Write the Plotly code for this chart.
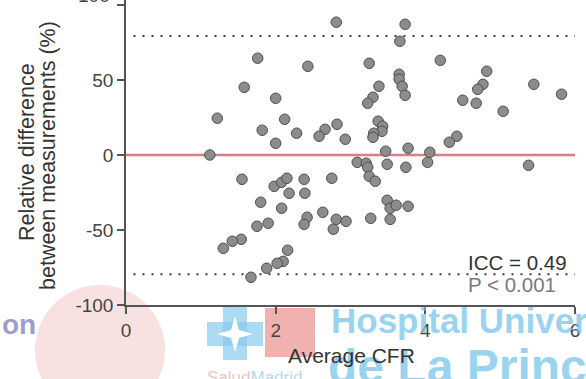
import plotly.graph_objects as go

# Bland-Altman style agreement plot for repeated CFR measurements
avg_cfr = [1.12, 1.22, 1.58, 1.76, 2.00, 1.82, 2.12, 2.28, 2.00, 2.43, 2.66, 2.58, 2.82, 2.93,
           2.81, 3.73, 3.66, 3.25, 4.20, 3.65, 3.65, 3.69, 3.73, 3.38, 3.30, 3.23, 3.37, 3.43,
           3.42, 3.31, 3.30, 4.42, 4.32, 3.47, 3.77, 4.06, 4.50, 4.68, 5.04, 4.82, 4.77, 4.70,
           5.45, 5.82, 5.38, 3.09, 3.21, 3.23, 3.25, 3.33, 3.49, 3.74, 4.03, 1.55, 1.98, 2.08,
           2.15, 2.38, 2.75, 2.18, 2.39, 1.80, 2.08, 2.63, 2.42, 2.38, 2.81, 2.94, 2.77, 1.90,
           1.75, 1.54, 1.42, 1.30, 2.16, 2.10, 2.02, 1.88, 1.67, 3.49, 3.53, 3.61, 3.77, 3.27,
           3.53]
rel_diff = [0, 24.5, 45.1, 64.5, 37.8, 16.5, 23.8, 14.5, 7.8, 59.1, 17.1, 12.5, 20.5, 10.5,
            88.5, 87.1, 75.8, 61.1, 63.1, 53.8, 50.5, 45.8, 39.8, 45.8, 38.5, 34.5, 22.5, 19.1,
            15.8, 14.5, 11.8, 12.5, 8.5, 2.5, 4.5, 1.8, 36.5, 34.5, 29.1, 55.8, 47.1, 43.8,
            47.1, 40.5, -6.9, -4.9, -5.5, -8.2, -14.2, -17.5, -6.2, -8.2, -4.9, -16.2, -20.9, -18.2,
            -15.5, -16.2, -15.5, -25.5, -25.5, -31.5, -35.5, -38.2, -41.5, -46.2, -42.9, -44.2, -49.5, -45.5,
            -47.5, -56.2, -57.5, -62.2, -63.5, -70.9, -72.2, -75.5, -81.5, -30.2, -35.5, -33.5, -34.2, -42.2,
            -42.9]

mean_bias = 0
upper_loa = 79.3
lower_loa = -79.5

x_ticks = [0, 2, 4, 6]
y_ticks = [-100, -50, 0, 50]
y_top_tick = 100

FONT = "Liberation Sans, Arial, Helvetica, sans-serif"

# plot-area geometry in pixels (used to place footer items in paper units)
PX_L, PX_R, PX_T, PX_B = 126, 575, 0, 305


def px(x, y):
    return (x - PX_L) / (PX_R - PX_L), (PX_B - y) / (PX_B - PX_T)


fig = go.Figure()

fig.add_trace(go.Scatter(
    x=avg_cfr, y=rel_diff, mode="markers",
    marker=dict(size=10.5, color="#8c8c8c", line=dict(color="#4d4d4d", width=1)),
    showlegend=False, hoverinfo="x+y",
))

# bias and limits of agreement
fig.add_shape(type="line", xref="x", yref="y", x0=0, x1=6, y0=mean_bias, y1=mean_bias,
              line=dict(color="#de7c85", width=2.6), layer="below")
for lim in (upper_loa, lower_loa):
    fig.add_shape(type="line", xref="x", yref="y", x0=0.1, x1=6, y0=lim, y1=lim,
                  line=dict(color="#3c3c3c", width=2, dash="2px,7px"), layer="below")

# faint logos in the footer
c0, c1 = px(35, 415), px(165, 285)
fig.add_shape(type="circle", xref="paper", yref="paper", x0=c0[0], y0=c0[1], x1=c1[0], y1=c1[1],
              fillcolor="rgba(214,105,105,0.2)", line=dict(width=0), layer="below")

blue = "rgba(135,202,236,0.7)"
for (ax, ay, bx, by) in [(207, 346, 263, 322), (223, 360, 247, 307)]:
    p0, p1 = px(ax, ay), px(bx, by)
    fig.add_shape(type="rect", xref="paper", yref="paper", x0=p0[0], y0=p0[1], x1=p1[0], y1=p1[1],
                  fillcolor=blue, line=dict(width=0), layer="below")
star = [(235, 316), (239, 330), (253, 334), (239, 338), (235, 352), (231, 338), (217, 334), (231, 330)]
star_path = "M " + " L ".join("{:.4f},{:.4f}".format(*px(sx, sy)) for sx, sy in star) + " Z"
fig.add_shape(type="path", xref="paper", yref="paper", path=star_path,
              fillcolor="white", line=dict(width=0), layer="below")

r0, r1 = px(265, 357), px(315, 308)
fig.add_shape(type="rect", xref="paper", yref="paper", x0=r0[0], y0=r0[1], x1=r1[0], y1=r1[1],
              fillcolor="rgba(236,140,140,0.68)", line=dict(width=0), layer="below")

watermarks = [
    ("<b>Hospital Universitario</b>", 329, 320, 35, "rgba(115,195,234,0.72)"),
    ("<b>de La Princesa</b>", 326, 366, 48, "rgba(115,195,234,0.72)"),
    ("<b>on</b>", 0, 324, 28, "rgba(140,140,195,0.85)"),
    ("<span style='color:rgba(236,150,160,0.8)'>Salud</span>"
     "<span style='color:rgba(130,195,235,0.8)'>Madrid</span>", 205, 377, 17, "rgba(130,195,235,0.8)"),
]
for text, wx, wy, size, color in watermarks:
    ax_, ay_ = px(wx, wy)
    fig.add_annotation(text=text, x=ax_, y=ay_, xref="paper", yref="paper",
                       xanchor="left", yanchor="middle", showarrow=False,
                       font=dict(family=FONT, size=size, color=color))

# axis titles and statistics
labels = [
    ("Average CFR", 351, 355, 21, "#333333", "center", 0),
    ("Relative difference", 27, 152, 21.5, "#333333", "center", -90),
    ("between measurements (%)", 48, 156, 21.5, "#333333", "center", -90),
    ("ICC = 0.49", 466, 262, 20.5, "#333333", "left", 0),
    ("P < 0.001", 466, 284, 20.5, "#7a7a7a", "left", 0),
]
for text, lx, ly, size, color, anchor, angle in labels:
    ax_, ay_ = px(lx, ly)
    fig.add_annotation(text=text, x=ax_, y=ay_, xref="paper", yref="paper",
                       xanchor=anchor, yanchor="middle", textangle=angle, showarrow=False,
                       font=dict(family=FONT, size=size, color=color))

# top y tick label, mostly cut off by the upper edge of the figure
fig.add_annotation(text=str(y_top_tick), x=(112 - PX_L) / (PX_R - PX_L), y=y_top_tick,
                   xref="paper", yref="y", xanchor="right", yanchor="middle", yshift=9,
                   showarrow=False, font=dict(family=FONT, size=19, color="#444444"))

axis_common = dict(showgrid=False, zeroline=False, showline=True, linecolor="#555555", linewidth=1.5,
                   ticks="outside", ticklen=7, tickwidth=1.5, tickcolor="#555555",
                   tickfont=dict(family=FONT, size=19, color="#444444"))
fig.update_xaxes(range=[0, 6], tickvals=x_ticks, **axis_common)
fig.update_yaxes(range=[-100, 103.3], tickvals=y_ticks + [y_top_tick],
                 ticktext=[str(v) for v in y_ticks] + [""], **axis_common)

fig.update_layout(
    width=586, height=379,
    margin=dict(l=126, r=11, t=0, b=74),
    plot_bgcolor="rgba(0,0,0,0)", paper_bgcolor="white",
    showlegend=False,
)

fig.write_html("out.html")
